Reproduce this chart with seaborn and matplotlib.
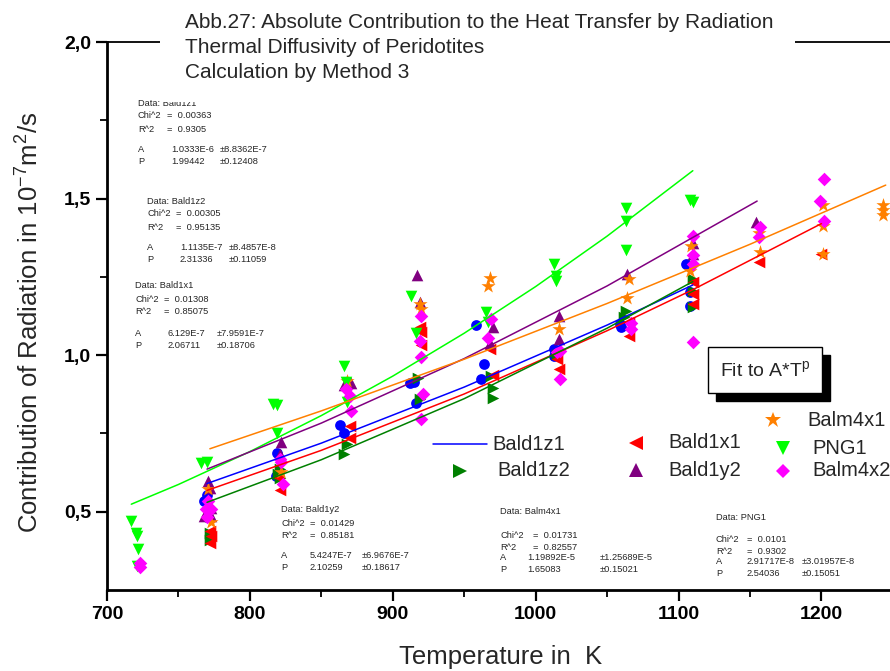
import matplotlib
matplotlib.use("Agg")
import matplotlib.pyplot as plt
from matplotlib.lines import Line2D
from matplotlib.patches import Rectangle
import seaborn as sns

W, H = 890, 671

# measured points, temperature in K / contribution in 1e-7 m^2/s
bald1z1_t = [770, 768, 770, 819, 818, 863, 866, 912, 915, 916, 958, 964, 962, 1013, 1013, 1059, 1060, 1105, 1108, 1108]
bald1z1_y = [0.554, 0.535, 0.483, 0.686, 0.615, 0.776, 0.752, 0.912, 0.914, 0.848, 1.096, 0.971, 0.923, 1.019, 0.996, 1.099, 1.089, 1.292, 1.201, 1.158]

bald1z2_t = [772, 772, 821, 820, 821, 868, 866, 918, 919, 969, 970, 970, 1015, 1063, 1062, 1110, 1110, 1110]
bald1z2_y = [0.432, 0.410, 0.635, 0.620, 0.608, 0.715, 0.683, 0.928, 0.860, 0.934, 0.896, 0.864, 1.003, 1.142, 1.121, 1.244, 1.206, 1.153]

bald1x1_t = [772, 773, 772, 821, 820, 870, 870, 919, 920, 920, 968, 970, 1015, 1016, 1065, 1065, 1110, 1110, 1110, 1156, 1200]
bald1x1_y = [0.437, 0.423, 0.400, 0.568, 0.612, 0.773, 0.736, 1.089, 1.073, 1.032, 1.019, 0.936, 0.987, 0.955, 1.105, 1.062, 1.235, 1.196, 1.163, 1.297, 1.324]

bald1y2_t = [771, 772, 773, 773, 768, 822, 821, 871, 866, 917, 919, 970, 968, 1016, 1016, 1064, 1110, 1110, 1154]
bald1y2_y = [0.597, 0.577, 0.513, 0.485, 0.485, 0.722, 0.683, 0.912, 0.904, 1.256, 1.171, 1.089, 1.040, 1.124, 1.051, 1.260, 1.359, 1.324, 1.425]

balm4x1_t = [771, 773, 822, 868, 919, 920, 968, 967, 1016, 1065, 1064, 1109, 1108, 1156, 1157, 1201, 1201, 1201, 1243, 1243, 1243]
balm4x1_y = [0.574, 0.466, 0.626, 0.918, 1.163, 1.147, 1.246, 1.222, 1.083, 1.244, 1.182, 1.350, 1.270, 1.390, 1.329, 1.480, 1.414, 1.324, 1.479, 1.463, 1.446]

png1_t = [717, 720, 721, 722, 721, 766, 770, 816, 819, 819, 866, 867, 868, 913, 916, 965, 967, 1013, 1014, 1014, 1063, 1063, 1063, 1108, 1110]
png1_y = [0.471, 0.432, 0.423, 0.380, 0.328, 0.656, 0.658, 0.843, 0.840, 0.752, 0.964, 0.914, 0.850, 1.190, 1.071, 1.137, 1.107, 1.292, 1.254, 1.236, 1.470, 1.428, 1.337, 1.495, 1.490]

balm4x2_t = [723, 723, 771, 769, 773, 770, 821, 822, 823, 867, 870, 871, 920, 919, 920, 921, 920, 969, 967, 1017, 1015, 1017, 1067, 1067, 1110, 1110, 1110, 1110, 1157, 1156, 1202, 1199, 1202]
balm4x2_y = [0.336, 0.322, 0.533, 0.509, 0.509, 0.483, 0.667, 0.660, 0.590, 0.891, 0.868, 0.821, 1.124, 1.046, 0.995, 0.875, 0.797, 1.115, 1.054, 1.014, 1.009, 0.925, 1.103, 1.083, 1.382, 1.321, 1.292, 1.041, 1.409, 1.377, 1.564, 1.491, 1.428]

# fitted A*T^p curves, values at a few temperatures
fit_bald1z1_t = [770, 850, 950, 1050, 1110]
fit_bald1z1_y = [0.590, 0.719, 0.898, 1.096, 1.224]
fit_bald1z2_t = [770, 850, 950, 1050, 1110]
fit_bald1z2_y = [0.530, 0.666, 0.861, 1.086, 1.235]
fit_bald1x1_t = [770, 850, 950, 1050, 1110, 1200]
fit_bald1x1_y = [0.568, 0.696, 0.876, 1.078, 1.209, 1.420]
fit_bald1y2_t = [770, 850, 950, 1050, 1155]
fit_bald1y2_y = [0.636, 0.783, 0.989, 1.221, 1.492]
fit_balm4x1_t = [772, 850, 950, 1050, 1150, 1245]
fit_balm4x1_y = [0.701, 0.822, 0.987, 1.165, 1.354, 1.543]
fit_png1_t = [717, 750, 800, 850, 900, 950, 1000, 1050, 1110]
fit_png1_y = [0.524, 0.587, 0.692, 0.807, 0.933, 1.070, 1.219, 1.380, 1.589]

BLUE, DKGREEN, RED, PURPLE = "#0000FF", "#008000", "#FF0000", "#800080"
ORANGE, LIME, MAGENTA = "#FF8000", "#00FF00", "#FF00FF"

series = [
    (bald1z1_t, bald1z1_y, "o", BLUE, 60),
    (bald1z2_t, bald1z2_y, ">", DKGREEN, 70),
    (bald1x1_t, bald1x1_y, "<", RED, 70),
    (bald1y2_t, bald1y2_y, "^", PURPLE, 70),
    (balm4x1_t, balm4x1_y, "*", ORANGE, 115),
    (png1_t, png1_y, "v", LIME, 70),
    (balm4x2_t, balm4x2_y, "D", MAGENTA, 48),
]
fits = [
    (fit_png1_t, fit_png1_y, LIME),
    (fit_bald1y2_t, fit_bald1y2_y, PURPLE),
    (fit_balm4x1_t, fit_balm4x1_y, ORANGE),
    (fit_bald1z1_t, fit_bald1z1_y, BLUE),
    (fit_bald1x1_t, fit_bald1x1_y, RED),
    (fit_bald1z2_t, fit_bald1z2_y, DKGREEN),
]

sns.set_style("ticks")
plt.rcParams["font.family"] = ["Liberation Sans", "DejaVu Sans"]
plt.rcParams["mathtext.fontset"] = "custom"
plt.rcParams["mathtext.rm"] = "Liberation Sans"
plt.rcParams["mathtext.it"] = "Liberation Sans"


def fx(px):
    return px / W


def fy(py):
    return 1 - py / H


fig = plt.figure(figsize=(W / 100, H / 100), dpi=100)
ax = fig.add_axes([fx(107), fy(590), (W - 107) / W, (590 - 42) / H])

for t, y, m, c, s in series:
    sns.scatterplot(x=t, y=y, marker=m, color=c, s=s, linewidth=0, ax=ax, zorder=3)
for t, y, c in fits:
    sns.lineplot(x=t, y=y, color=c, linewidth=1.1, ax=ax, zorder=4)

ax.set_xlim(700, 1248)
ax.set_ylim(0.25, 2.0)
ax.set_xticks(range(700, 1201, 100))
ax.set_xticks(range(750, 1250, 100), minor=True)
ax.set_yticks([0.5, 1.0, 1.5, 2.0])
ax.set_yticklabels(["0,5", "1,0", "1,5", "2,0"])
ax.set_yticks([0.75, 1.25, 1.75], minor=True)
ax.tick_params(which="major", length=8, width=1.6, direction="out", labelsize=14, color="black", labelcolor="black")
ax.tick_params(which="minor", length=5, width=1.3, direction="out", color="black")
for lab in ax.get_xticklabels() + ax.get_yticklabels():
    lab.set_fontweight("bold")
ax.spines["left"].set_linewidth(2)
ax.spines["bottom"].set_linewidth(2)
ax.spines["top"].set_linewidth(1.3)
ax.spines["right"].set_visible(False)
for sp in ax.spines.values():
    sp.set_color("black")
ax.set_xlabel("")
ax.set_ylabel("")

fig.text(fx(501), fy(657), "Temperature in  K", ha="center", va="center", fontsize=18.5)
fig.text(fx(30), fy(322), "Contribution of Radiation in 10$^{-7}$m$^{2}$/s", rotation=90,
         ha="center", va="center", fontsize=18.5)

# fit parameter blocks
def block(x, y, name, chi, r2, a, a_err, p, p_err, rows, off_eq=29, off_val=33, off_err=82):
    fs = 6.7
    fig.text(fx(x), fy(y + rows[0]), "Data: " + name, fontsize=fs, va="center")
    fig.text(fx(x), fy(y + rows[1]), "Chi^2", fontsize=fs, va="center")
    fig.text(fx(x + off_eq), fy(y + rows[1]), "=  " + chi, fontsize=fs, va="center")
    fig.text(fx(x), fy(y + rows[2]), "R^2", fontsize=fs, va="center")
    fig.text(fx(x + off_eq), fy(y + rows[2]), "=  " + r2, fontsize=fs, va="center")
    fig.text(fx(x), fy(y + rows[3]), "A", fontsize=fs, va="center")
    fig.text(fx(x + off_val), fy(y + rows[3]), a, fontsize=fs, va="center")
    fig.text(fx(x + off_err), fy(y + rows[3]), "\u00b1" + a_err, fontsize=fs, va="center")
    fig.text(fx(x), fy(y + rows[4]), "P", fontsize=fs, va="center")
    fig.text(fx(x + off_val), fy(y + rows[4]), p, fontsize=fs, va="center")
    fig.text(fx(x + off_err), fy(y + rows[4]), "\u00b1" + p_err, fontsize=fs, va="center")


rows_left = [0, 13, 26, 47, 59]
block(138, 103, "Bald1z1", "0.00363", "0.9305", "1.0333E-6", "8.8362E-7", "1.99442", "0.12408", rows_left)
block(147, 201, "Bald1z2", "0.00305", "0.95135", "1.1135E-7", "8.4857E-8", "2.31336", "0.11059", rows_left)
block(135, 286, "Bald1x1", "0.01308", "0.85075", "6.129E-7", "7.9591E-7", "2.06711", "0.18706", rows_left)
block(281, 510, "Bald1y2", "0.01429", "0.85181", "5.4247E-7", "6.9676E-7", "2.10259", "0.18617",
      [0, 13, 25, 46, 58], off_val=29, off_err=81)
block(500, 512, "Balm4x1", "0.01731", "0.82557", "1.19892E-5", "1.25689E-5", "1.65083", "0.15021",
      [0, 24, 35, 46, 57], off_eq=33, off_val=27, off_err=100)
block(716, 518, "PNG1", "0.0101", "0.9302", "2.91717E-8", "3.01957E-8", "2.54036", "0.15051",
      [0, 22, 33, 44, 55], off_eq=31, off_val=31, off_err=86)

# title over the top frame line
fig.add_artist(Rectangle((fx(160), fy(102)), (795 - 160) / W, 102 / H, transform=fig.transFigure,
                         facecolor="white", edgecolor="none", zorder=4))
for i, line in enumerate(["Abb.27: Absolute Contribution to the Heat Transfer by Radiation",
                          "Thermal Diffusivity of Peridotites",
                          "Calculation by Method 3"]):
    fig.text(fx(185), fy(22 + 25.5 * i), line, fontsize=15, va="center", zorder=5)

# "Fit to A*T^p" box with shadow
fig.add_artist(Rectangle((fx(716), fy(401)), 114 / W, 46 / H, transform=fig.transFigure,
                         facecolor="black", edgecolor="black", zorder=4))
fig.add_artist(Rectangle((fx(708), fy(393)), 114 / W, 46 / H, transform=fig.transFigure,
                         facecolor="white", edgecolor="black", linewidth=1, zorder=5))
fig.text(fx(765), fy(370), "Fit to A*T$^{p}$", ha="center", va="center", fontsize=14, zorder=6)

# legend
legend_items = [
    (460, 444, None, BLUE, 492, "Bald1z1"),
    (460, 471, ">", DKGREEN, 497, "Bald1z2"),
    (636, 443, "<", RED, 668, "Bald1x1"),
    (636, 470, "^", PURPLE, 668, "Bald1y2"),
    (773, 420, "*", ORANGE, 807, "Balm4x1"),
    (783, 448, "v", LIME, 812, "PNG1"),
    (783, 471, "D", MAGENTA, 812, "Balm4x2"),
]
for mx, my, m, c, tx, name in legend_items:
    if m is None:
        fig.add_artist(Line2D([fx(433), fx(487)], [fy(my), fy(my)], color=c, linewidth=1.1))
    else:
        ms = 12 if m == "*" else (7.5 if m == "D" else 9.5)
        fig.add_artist(Line2D([fx(mx)], [fy(my)], marker=m, color=c, markersize=ms,
                              linestyle="none", markeredgewidth=0))
    fig.text(fx(tx), fy(my), name, va="center", fontsize=14.5)

fig.savefig("out.png", dpi=100)
